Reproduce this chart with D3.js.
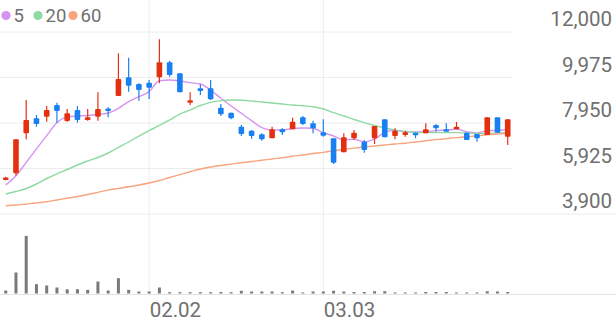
<!DOCTYPE html>
<html>
<head>
<meta charset="utf-8">
<script src="https://cdn.jsdelivr.net/npm/d3@7"></script>
<style>
  body { margin: 0; background: #fff; }
  text { font-family: Roboto, "Noto Sans", sans-serif; }
</style>
</head>
<body>
<div id="chart"></div>
<script>
// trading days shown (MM.DD)
const dates = [
  "01.13","01.14","01.15","01.16","01.19","01.20","01.21","01.22","01.23","01.26","01.27","01.28","01.29","01.30",
  "02.02","02.03","02.04","02.05","02.06","02.09","02.10","02.11","02.12","02.13","02.19","02.20","02.23","02.24","02.25","02.26","02.27",
  "03.03","03.04","03.05","03.06","03.09","03.10","03.11","03.12","03.13","03.16","03.17","03.18","03.19","03.20","03.23","03.24","03.25","03.26","03.27"
];
const open  = [5420,5712,7490,8160,8230,8750,8040,8530,8085,8230,8590,9150,9985,9685,9745,9985,10650,10160,8885,9495,9495,8630,8410,7785,7610,7445,7270,7670,7670,8205,7935,7535,7270,6645,7270,7120,7270,8115,7370,7415,7520,7490,7860,7670,7670,7520,7460,7415,8205,7340];
const high  = [5560,7225,8970,8305,8705,8855,8575,8705,8575,9315,8650,11050,10855,9715,9865,11675,10725,10160,9315,9670,9865,8795,8410,7860,7640,7490,7785,7715,8185,8260,8055,8115,7270,7490,7640,7195,7815,8115,7715,7610,7520,7935,7890,7935,7995,7520,7460,8205,8205,8115];
const low   = [5400,5610,7225,7785,8010,7965,8010,7965,8050,8050,8205,9150,9345,8945,9020,9715,10010,9315,8750,9195,8975,8260,8115,7370,7250,7160,7270,7415,7670,7860,7490,7340,6125,6645,7195,6630,7015,7315,7225,7340,7270,7490,7565,7580,7670,7195,7120,7415,7520,6970];
const close = [5520,7225,8085,7905,8530,8485,8380,8085,8205,8575,8485,9910,9610,9420,9520,10650,10085,9315,8960,9375,9005,8335,8160,7460,7370,7225,7670,7535,8010,7905,7715,7385,6185,7315,7520,6750,7815,7315,7610,7535,7415,7670,7715,7580,7785,7195,7270,8205,7520,8115];
const volume = [300000,2100000,5760000,930000,800000,600000,420000,430000,360000,1200000,300000,1530000,360000,200000,200000,600000,130000,130000,130000,130000,130000,150000,130000,270000,200000,200000,200000,130000,300000,100000,200000,200000,270000,200000,150000,150000,230000,230000,100000,100000,100000,150000,150000,150000,100000,100000,100000,230000,200000,150000];
const ma5  = [5190,5600,6200,6800,7390,7960,8220,8260,8285,8330,8395,8605,8900,9120,9345,9833,9864,9820,9745,9686,9419,9050,8707,8382,8053,7741,7640,7640,7705,7730,7715,7520,7372,7194,7230,7105,7240,7530,7620,7565,7550,7565,7610,7640,7670,7565,7505,7610,7620,7670];
const ma20 = [4790,4900,5035,5235,5480,5690,5880,6080,6260,6415,6615,6860,7105,7370,7615,7840,8085,8350,8530,8730,8865,8945,8975,8965,8930,8885,8840,8795,8750,8720,8675,8575,8410,8260,8105,7970,7840,7725,7640,7565,7535,7520,7520,7520,7520,7505,7490,7490,7505,7520];
const ma60 = [4270,4300,4345,4390,4445,4525,4600,4680,4770,4865,4965,5040,5110,5190,5280,5390,5525,5650,5780,5905,5990,6060,6120,6180,6235,6290,6350,6405,6470,6525,6590,6645,6715,6770,6830,6880,6925,6970,7015,7050,7105,7160,7210,7255,7300,7335,7380,7425,7460,7490];
const priceTicks = [3900, 5925, 7950, 9975, 12000];
const dateTicks = ["02.02", "03.03"];
const maNames = ["5", "20", "60"];

const W = 616, H = 321;
const UP = "#e5300f", DOWN = "#1a80f2";
const maColors = ["#d693f0", "#8fdaa4", "#f8a47e"];

const svg = d3.select("#chart").append("svg").attr("width", W).attr("height", H);

const x = d3.scaleBand().domain(dates).range([0.6, 512.85]);
const y = d3.scaleLinear().domain([3900, 12000]).range([214, 32]);
const yv = d3.scaleLinear().domain([0, 6400000]).range([293.5, 229.5]);
const cx = d => x(d) + x.bandwidth() / 2;

// grid
svg.selectAll(".hgrid").data(priceTicks).enter().append("line")
  .attr("x1", 0).attr("x2", d => d === 3900 ? W : 512)
  .attr("y1", d => y(d)).attr("y2", d => y(d))
  .attr("stroke", "#ececec").attr("stroke-width", 1);
svg.selectAll(".vgrid").data(dateTicks).enter().append("line")
  .attr("x1", d => cx(d)).attr("x2", d => cx(d))
  .attr("y1", 0).attr("y2", 294)
  .attr("stroke", "#ececec").attr("stroke-width", 1);
svg.append("line").attr("x1", 0).attr("x2", W).attr("y1", 294.5).attr("y2", 294.5)
  .attr("stroke", "#e4e4e4").attr("stroke-width", 1);

// price labels
svg.selectAll(".plab").data(priceTicks).enter().append("text")
  .attr("x", 612).attr("y", d => y(d) - 6)
  .attr("text-anchor", "end").attr("font-size", 20.5).attr("fill", "#6f6f6f")
  .text(d => d3.format(",")(d));

// date labels
svg.selectAll(".dlab").data(dateTicks).enter().append("text")
  .attr("x", d => cx(d) + 0.5).attr("y", 316.5)
  .attr("font-size", 20.5).attr("fill", "#6f6f6f")
  .text(d => d);

// moving averages
[ma5, ma20, ma60].forEach((s, k) => {
  const line = d3.line().x((v, i) => cx(dates[i])).y(v => y(v)).curve(d3.curveMonotoneX);
  svg.append("path").attr("d", line(s)).attr("fill", "none")
    .attr("stroke", maColors[k]).attr("stroke-width", 1.4);
});

// volume
svg.selectAll(".vol").data(volume).enter().append("rect")
  .attr("x", (v, i) => cx(dates[i]) - 1.5).attr("width", 3)
  .attr("y", v => yv(v)).attr("height", v => Math.max(1, yv(0) - yv(v)))
  .attr("fill", "#7a7a7a");

// candles
const idx = d3.range(dates.length);
const col = i => close[i] >= open[i] ? UP : DOWN;
svg.selectAll(".wick").data(idx).enter().append("line")
  .attr("x1", i => cx(dates[i])).attr("x2", i => cx(dates[i]))
  .attr("y1", i => y(high[i])).attr("y2", i => y(low[i]))
  .attr("stroke", col).attr("stroke-width", 1.2);
svg.selectAll(".body").data(idx).enter().append("rect")
  .attr("x", i => cx(dates[i]) - 2.8).attr("width", 5.6)
  .attr("y", i => y(Math.max(open[i], close[i])))
  .attr("height", i => Math.max(2.5, Math.abs(y(open[i]) - y(close[i]))))
  .attr("rx", 1)
  .attr("fill", col);

// legend
const lg = svg.append("g");
const lx = [6, 38, 73];
maNames.forEach((n, k) => {
  lg.append("circle").attr("cx", lx[k]).attr("cy", 15.5).attr("r", 4.6).attr("fill", maColors[k]);
  lg.append("text").attr("x", lx[k] + 7.5).attr("y", 22)
    .attr("font-size", 18.5).attr("fill", "#6f6f6f").text(n);
});
</script>
</body>
</html>
